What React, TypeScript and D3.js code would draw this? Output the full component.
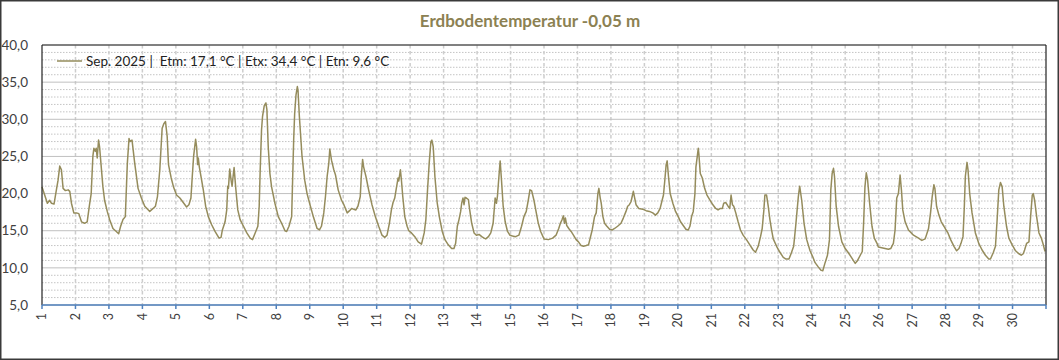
import React from 'react';
import * as d3 from 'd3';

// [day of month (decimal), soil temperature °C]
const week1: [number, number][] = [
  [1.00, 20.9], [1.08, 19.8], [1.16, 18.7], [1.23, 19.1], [1.28, 18.7], [1.36, 18.6], [1.43, 20.5], [1.48, 21.8],
  [1.53, 23.7], [1.58, 23.2], [1.63, 20.7], [1.70, 20.4], [1.78, 20.5], [1.83, 20.3], [1.88, 18.7], [1.95, 17.4],
  [2.03, 17.4], [2.10, 17.3], [2.18, 16.2], [2.27, 16.0], [2.35, 16.2], [2.42, 18.5], [2.47, 20.0], [2.52, 25.0],
  [2.55, 26.1], [2.59, 25.7], [2.62, 26.1], [2.65, 24.8], [2.69, 27.2], [2.72, 26.3], [2.77, 23.6], [2.82, 20.9],
  [2.87, 19.1], [2.95, 17.6], [3.02, 16.5], [3.12, 15.3], [3.22, 14.9], [3.29, 14.6], [3.35, 15.6], [3.42, 16.5],
  [3.49, 16.9], [3.55, 24.1], [3.60, 27.4], [3.63, 27.0], [3.69, 27.2], [3.77, 24.1], [3.87, 20.7], [3.97, 19.4],
  [4.07, 18.3], [4.22, 17.6], [4.32, 18.0], [4.39, 18.3], [4.45, 19.6], [4.52, 23.2], [4.59, 28.8], [4.64, 29.4],
  [4.69, 29.7], [4.74, 27.7], [4.78, 23.9], [4.86, 22.1], [4.93, 20.9], [5.02, 19.8], [5.12, 19.4], [5.22, 18.8],
  [5.32, 18.2], [5.39, 18.5], [5.45, 19.4], [5.49, 22.3], [5.53, 25.0], [5.59, 27.3], [5.62, 26.3], [5.65, 23.9],
  [5.67, 24.8], [5.70, 23.6], [5.75, 22.3], [5.82, 20.5], [5.89, 18.3], [5.97, 16.9], [6.07, 15.8], [6.17, 14.9],
  [6.29, 14.0], [6.35, 14.1], [6.39, 15.1], [6.47, 16.2], [6.52, 17.8], [6.55, 21.0], [6.57, 20.7], [6.61, 23.3],
  [6.65, 21.8], [6.68, 21.0], [6.71, 22.3], [6.74, 23.5], [6.79, 20.7], [6.85, 17.8], [6.92, 16.5], [7.02, 15.6],
  [7.12, 14.7], [7.22, 14.0], [7.29, 13.8], [7.37, 14.7], [7.45, 15.6], [7.49, 18.3], [7.52, 23.2], [7.56, 28.6],
  [7.59, 30.4], [7.64, 31.8], [7.69, 32.2], [7.72, 31.3], [7.76, 26.3], [7.81, 22.7], [7.86, 20.9], [7.96, 18.7],
];

const week2: [number, number][] = [
  [8.06, 16.9], [8.16, 16.0], [8.26, 15.0], [8.31, 14.9], [8.38, 15.6], [8.46, 16.9], [8.52, 27.2], [8.55, 30.8],
  [8.59, 33.3], [8.63, 34.4], [8.65, 33.9], [8.69, 30.4], [8.77, 25.0], [8.85, 21.8], [8.92, 20.0], [9.02, 18.3],
  [9.12, 16.7], [9.22, 15.3], [9.29, 15.1], [9.35, 15.6], [9.42, 17.4], [9.47, 19.6], [9.52, 22.3], [9.57, 24.1],
  [9.60, 26.0], [9.65, 24.5], [9.72, 23.2], [9.77, 22.5], [9.85, 20.5], [9.95, 19.1], [10.02, 18.5], [10.12, 17.4],
  [10.19, 17.7], [10.25, 18.0], [10.31, 17.9], [10.38, 17.8], [10.44, 18.3], [10.51, 19.6], [10.54, 22.3], [10.58, 24.6],
  [10.61, 23.6], [10.68, 22.3], [10.76, 20.5], [10.86, 18.5], [10.96, 16.9], [11.06, 15.6], [11.16, 14.4], [11.24, 14.1],
  [11.31, 14.4], [11.38, 16.0], [11.44, 17.8], [11.49, 18.8], [11.54, 19.4], [11.58, 20.5], [11.64, 22.1], [11.66, 21.7],
  [11.71, 23.2], [11.74, 21.8], [11.78, 19.6], [11.84, 16.9], [11.91, 15.6], [11.96, 15.0], [12.04, 14.7], [12.14, 14.2],
  [12.24, 13.5], [12.34, 13.2], [12.42, 14.7], [12.47, 16.5], [12.52, 20.5], [12.57, 24.1], [12.62, 27.0], [12.65, 27.2],
  [12.69, 26.3], [12.74, 22.3], [12.81, 18.7], [12.88, 16.7], [12.96, 14.9], [13.04, 13.8], [13.14, 13.1], [13.24, 12.6],
  [13.31, 12.6], [13.36, 13.3], [13.41, 15.6], [13.46, 16.5], [13.51, 17.6], [13.54, 18.7], [13.58, 19.4], [13.61, 18.5],
  [13.64, 19.5], [13.68, 19.4], [13.74, 19.2], [13.78, 17.8], [13.84, 16.0], [13.91, 14.7], [13.98, 14.4], [14.06, 14.5],
  [14.14, 14.2], [14.21, 14.0], [14.26, 13.9], [14.34, 14.2], [14.41, 14.7], [14.48, 16.0], [14.54, 19.4], [14.58, 18.7],
  [14.61, 19.7], [14.66, 22.7], [14.69, 24.4], [14.73, 21.8], [14.78, 18.3], [14.84, 16.2], [14.91, 14.9], [14.98, 14.4],
];

const week3: [number, number][] = [
  [15.06, 14.3], [15.15, 14.2], [15.25, 14.4], [15.33, 15.6], [15.40, 16.9], [15.47, 17.6], [15.53, 19.1], [15.58, 20.5],
  [15.63, 20.4], [15.70, 19.1], [15.77, 17.4], [15.83, 16.0], [15.90, 14.9], [16.00, 13.9], [16.13, 13.8], [16.26, 14.0],
  [16.36, 14.4], [16.44, 15.3], [16.49, 16.0], [16.54, 16.5], [16.58, 17.0], [16.61, 16.0], [16.64, 16.7], [16.68, 15.7],
  [16.74, 15.3], [16.81, 14.9], [16.88, 14.4], [16.96, 13.8], [17.03, 13.5], [17.11, 13.0], [17.18, 12.9], [17.26, 13.0],
  [17.33, 13.1], [17.38, 14.0], [17.44, 15.1], [17.51, 16.9], [17.56, 17.4], [17.61, 20.0], [17.64, 20.7], [17.68, 19.4],
  [17.71, 18.7], [17.76, 16.9], [17.81, 16.0], [17.88, 15.6], [17.96, 15.2], [18.04, 15.1], [18.11, 15.3], [18.20, 15.6],
  [18.30, 16.0], [18.37, 16.7], [18.45, 17.6], [18.50, 18.3], [18.55, 18.5], [18.60, 18.9], [18.63, 19.5], [18.67, 20.3],
  [18.71, 19.4], [18.75, 18.5], [18.83, 18.0], [18.95, 17.9], [19.05, 17.7], [19.15, 17.6], [19.25, 17.4], [19.33, 17.1],
  [19.40, 17.4], [19.47, 18.0], [19.53, 19.1], [19.57, 19.8], [19.61, 21.8], [19.65, 23.9], [19.68, 24.4], [19.72, 22.3],
  [19.77, 20.0], [19.85, 18.7], [19.93, 17.6], [20.01, 16.9], [20.08, 16.2], [20.16, 15.7], [20.24, 15.2], [20.31, 15.1],
  [20.36, 15.6], [20.41, 16.9], [20.46, 17.6], [20.51, 20.0], [20.54, 23.6], [20.58, 25.0], [20.61, 26.1], [20.63, 25.2],
  [20.67, 22.7], [20.73, 22.1], [20.80, 20.7], [20.87, 19.8], [20.95, 19.2], [21.03, 18.6], [21.13, 18.0], [21.20, 17.8],
  [21.27, 18.0], [21.33, 18.0], [21.37, 18.7], [21.43, 18.8], [21.50, 18.3], [21.55, 18.0], [21.59, 19.8], [21.63, 18.5],
  [21.67, 18.3], [21.73, 17.4], [21.80, 16.2], [21.87, 15.1], [21.95, 14.4],
];

const week4: [number, number][] = [
  [22.05, 13.8], [22.15, 13.1], [22.25, 12.4], [22.32, 12.1], [22.40, 12.9], [22.47, 14.2], [22.52, 15.3], [22.57, 17.8],
  [22.60, 19.8], [22.65, 19.8], [22.70, 18.3], [22.75, 16.5], [22.80, 15.1], [22.85, 13.9], [22.95, 12.9], [23.05, 12.1],
  [23.15, 11.4], [23.22, 11.2], [23.32, 11.2], [23.39, 12.0], [23.46, 12.9], [23.52, 15.6], [23.56, 17.6], [23.60, 19.6],
  [23.64, 21.0], [23.70, 19.1], [23.77, 16.0], [23.85, 13.8], [23.95, 12.3], [24.03, 11.5], [24.10, 10.7], [24.20, 10.1],
  [24.27, 9.7], [24.33, 9.6], [24.40, 10.7], [24.47, 11.7], [24.53, 13.8], [24.57, 20.5], [24.61, 22.7], [24.65, 23.4],
  [24.68, 22.3], [24.73, 18.3], [24.80, 15.6], [24.90, 13.5], [25.00, 12.6], [25.10, 12.0], [25.20, 11.3], [25.30, 10.6],
  [25.37, 11.0], [25.45, 11.7], [25.51, 12.2], [25.55, 16.0], [25.59, 20.9], [25.63, 22.8], [25.67, 21.8], [25.73, 18.7],
  [25.80, 15.6], [25.87, 14.0], [25.95, 13.3], [25.99, 12.8], [26.09, 12.7], [26.19, 12.6], [26.29, 12.5], [26.36, 12.6],
  [26.44, 13.3], [26.49, 15.1], [26.54, 19.4], [26.59, 20.0], [26.64, 22.5], [26.68, 20.5], [26.72, 17.8], [26.79, 16.2],
  [26.89, 15.1], [27.04, 14.4], [27.19, 14.0], [27.29, 13.7], [27.39, 13.9], [27.49, 15.3], [27.55, 17.4], [27.60, 19.6],
  [27.65, 21.2], [27.68, 20.7], [27.73, 18.3], [27.80, 17.1], [27.87, 16.2], [27.95, 15.6], [28.00, 15.2], [28.07, 14.7],
  [28.15, 13.8], [28.25, 12.9], [28.33, 12.3], [28.40, 12.6], [28.46, 13.3], [28.52, 14.2], [28.56, 18.3], [28.59, 22.3],
  [28.64, 24.2], [28.67, 23.2], [28.72, 20.0], [28.79, 17.4], [28.89, 14.7], [28.99, 13.3], [29.09, 12.4], [29.19, 11.7],
  [29.29, 11.2], [29.34, 11.2], [29.42, 12.0], [29.49, 12.9], [29.54, 16.5], [29.59, 20.5], [29.64, 21.5], [29.69, 20.9],
  [29.74, 18.3], [29.82, 15.6], [29.89, 14.0], [29.99, 13.1], [30.09, 12.3], [30.19, 11.9], [30.26, 11.7], [30.32, 11.9],
  [30.36, 12.4], [30.42, 13.3], [30.49, 13.5], [30.54, 16.9], [30.59, 19.8], [30.62, 20.0], [30.66, 19.1], [30.72, 16.9],
  [30.79, 14.7], [30.86, 14.0], [30.92, 13.1], [30.97, 12.2],
];

const dayTicks = d3.range(1, 31);
const majorY = [5, 10, 15, 20, 25, 30, 35, 40];
const minorY = d3.range(5, 41).filter((v) => v % 5 !== 0);

const TITLE = 'Erdbodentemperatur -0,05 m';
const LEGEND = 'Sep. 2025 |  Etm: 17,1 °C | Etx: 34,4 °C | Etn: 9,6 °C';

const FONT = 'Lato, "Open Sans", sans-serif';
const LINE_COLOR = '#958c5c';

export default function App() {
  const W = 1059;
  const H = 360;
  const left = 42;
  const right = 1046;
  const top = 45;
  const bottom = 305;

  const x = d3.scaleLinear().domain([1, 31]).range([left, right]);
  const y = d3.scaleLinear().domain([5, 40]).range([bottom, top]);

  const data = [...week1, ...week2, ...week3, ...week4];
  const line = d3
    .line<[number, number]>()
    .x((d) => x(d[0]))
    .y((d) => y(d[1]));

  const fmt = (v: number) => v.toFixed(1).replace('.', ',');

  return (
    <svg
      width={W}
      height={H}
      style={{ position: 'absolute', left: 0, top: 0, background: '#fff' }}
      fontFamily={FONT}
    >
      <rect x={0} y={0} width={W} height={H} fill="#fff" />
      <rect x={0.75} y={0.75} width={W - 1.5} height={H - 1.5} fill="none" stroke="#3a3a3a" strokeWidth={1.5} />

      <text x={530} y={27} textAnchor="middle" fontSize={17} fontWeight="bold" fill="#8c8152">
        {TITLE}
      </text>

      {/* minor horizontal grid */}
      {minorY.map((v) => (
        <line key={'mn' + v} x1={left} x2={right} y1={y(v)} y2={y(v)} stroke="#c4c4c4" strokeWidth={1} strokeDasharray="1.5,1.5" />
      ))}
      {/* vertical day grid */}
      {dayTicks.slice(1).map((d) => (
        <line key={'vg' + d} x1={x(d)} x2={x(d)} y1={top} y2={bottom} stroke="#cdcdcd" strokeWidth={1.5} strokeDasharray="3.5,2.5" />
      ))}
      {/* major horizontal grid */}
      {majorY.map((v) => (
        <line key={'mj' + v} x1={left} x2={right} y1={y(v)} y2={y(v)} stroke="#c0c0c0" strokeWidth={1} />
      ))}

      {/* y labels */}
      {majorY.map((v) => (
        <text key={'yl' + v} x={28} y={y(v)} dy="0.35em" textAnchor="end" fontSize={13.5} fill="#404040">
          {fmt(v)}
        </text>
      ))}

      {/* data line */}
      <path d={line(data) || ''} fill="none" stroke={LINE_COLOR} strokeWidth={1.5} strokeLinejoin="round" />

      {/* frame */}
      <line x1={left} x2={right} y1={top} y2={top} stroke="#222" strokeWidth={1.2} />
      <line x1={left} x2={left} y1={top} y2={bottom} stroke="#222" strokeWidth={1.2} />
      <line x1={right} x2={right} y1={top} y2={bottom} stroke="#222" strokeWidth={1.2} />
      <line x1={left} x2={right} y1={bottom} y2={bottom} stroke="#4f81bd" strokeWidth={1.5} />
      {[...dayTicks, 31].map((d) => (
        <line key={'tk' + d} x1={x(d)} x2={x(d)} y1={bottom} y2={bottom + 4} stroke="#4f81bd" strokeWidth={1.5} />
      ))}

      {/* x labels */}
      {dayTicks.map((d) => (
        <text
          key={'xl' + d}
          transform={`translate(${x(d)},${bottom + 8}) rotate(-90)`}
          textAnchor="end"
          dy="0.35em"
          fontSize={12.5}
          fill="#404040"
        >
          {d}
        </text>
      ))}

      {/* legend */}
      <line x1={57} x2={82} y1={61} y2={61} stroke={LINE_COLOR} strokeWidth={1.5} />
      <text x={86} y={65.5} fontSize={13.5} fill="#222" style={{ whiteSpace: 'pre' }}>
        {LEGEND}
      </text>
    </svg>
  );
}
